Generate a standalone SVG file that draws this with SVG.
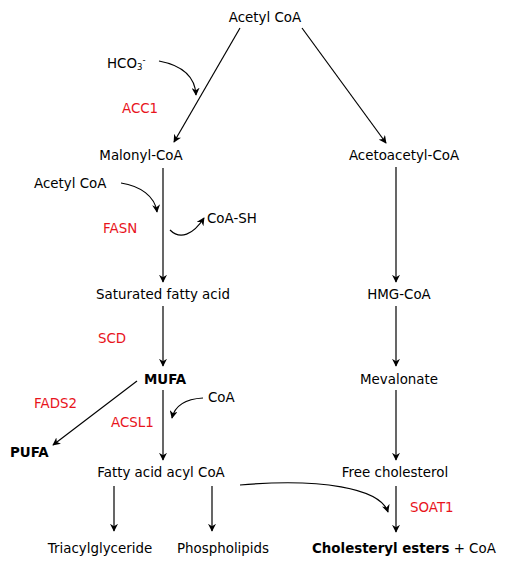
<svg xmlns="http://www.w3.org/2000/svg" width="505" height="566" viewBox="0 0 505 566">
<style>
text{font-family:"DejaVu Sans","Liberation Sans",sans-serif;font-size:13.4px;fill:#000}
.r{fill:#e8141c}
.b{font-weight:bold}
.c{text-anchor:middle}
.l{stroke:#000;stroke-width:1.2;fill:none;marker-end:url(#a)}
</style>
<defs>
<marker id="a" viewBox="0 0 10 10" refX="9" refY="5" markerWidth="8" markerHeight="8" markerUnits="userSpaceOnUse" orient="auto">
<path d="M0,0 L10,5 L0,10 L3,5 z" fill="#000"/>
</marker>
</defs>
<rect width="505" height="566" fill="#fff"/>
<g id="connectors">
<path class="l" d="M240,28 L174,142"/>
<path class="l" d="M302,28 L386,143"/>
<path class="l" d="M159,61 C180,65 195,75 196,95"/>
<path class="l" d="M163,168 L163,282"/>
<path class="l" d="M121,183 C140,186 155,196 157,212"/>
<path class="l" d="M170,230 C180,240 193,235 204,218"/>
<path class="l" d="M163,306 L163,366"/>
<path class="l" d="M163,390 L163,460"/>
<path class="l" d="M203,398 C185,399 175,405 172,418"/>
<path class="l" d="M137,381 L53,445"/>
<path class="l" d="M114,486 L114,531"/>
<path class="l" d="M212,486 L212,531"/>
<path class="l" d="M240,485 C320,478 380,488 388,512"/>
<path class="l" d="M396,167 L396,282"/>
<path class="l" d="M396,306 L396,366"/>
<path class="l" d="M396,390 L396,460"/>
<path class="l" d="M396,486 L396,532"/>
</g>
<g id="acetylcoa"><text class="c" x="265" y="22">Acetyl CoA</text></g>
<g id="hco3"><text x="107" y="68">HCO<tspan font-size="8.5" dy="2">3</tspan><tspan font-size="8.5" dy="-7">-</tspan></text></g>
<g id="acc1"><text class="r" x="122" y="113">ACC1</text></g>
<g id="malonyl"><text class="c" x="141" y="160">Malonyl-CoA</text></g>
<g id="acetylcoa2"><text x="34" y="188">Acetyl CoA</text></g>
<g id="fasn"><text class="r" x="103" y="233">FASN</text></g>
<g id="coash"><text x="207" y="223">CoA-SH</text></g>
<g id="sfa"><text class="c" x="163" y="299">Saturated fatty acid</text></g>
<g id="scd"><text class="r" x="98" y="343">SCD</text></g>
<g id="mufa"><text class="b" x="144" y="384">MUFA</text></g>
<g id="fads2"><text class="r" x="34" y="408">FADS2</text></g>
<g id="coa"><text x="208" y="402">CoA</text></g>
<g id="acsl1"><text class="r" x="111" y="427">ACSL1</text></g>
<g id="pufa"><text class="b" x="10" y="457">PUFA</text></g>
<g id="faacyl"><text class="c" x="161" y="477">Fatty acid acyl CoA</text></g>
<g id="tag"><text class="c" x="100" y="553">Triacylglyceride</text></g>
<g id="pl"><text class="c" x="223" y="553">Phospholipids</text></g>
<g id="acetoacetyl"><text class="c" x="404" y="160">Acetoacetyl-CoA</text></g>
<g id="hmg"><text class="c" x="399" y="299">HMG-CoA</text></g>
<g id="mev"><text class="c" x="399" y="384">Mevalonate</text></g>
<g id="freechol"><text class="c" x="395" y="477">Free cholesterol</text></g>
<g id="soat1"><text class="r" x="410" y="512">SOAT1</text></g>
<g id="ce"><text x="312" y="553"><tspan class="b">Cholesteryl esters</tspan> + CoA</text></g>
</svg>
